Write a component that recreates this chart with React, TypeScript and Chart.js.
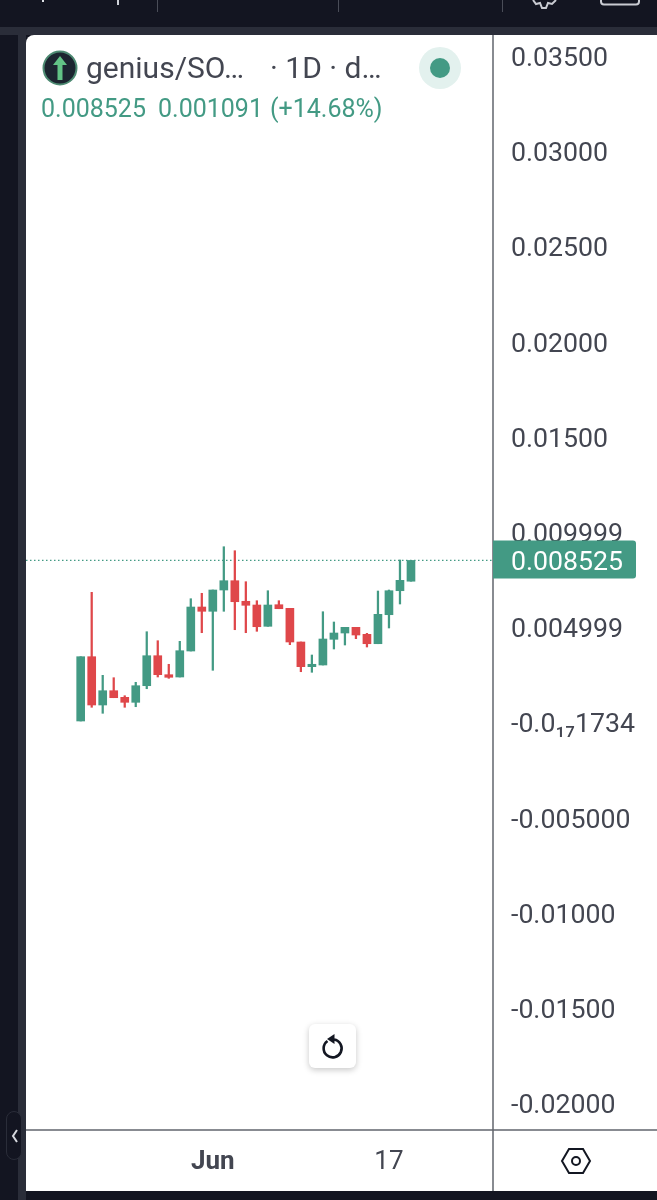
import React, { useEffect, useRef } from "react";
import { Chart, registerables } from "chart.js";

Chart.register(...registerables);

const categories = [
  "May 20","May 21","May 22","May 23","May 24","May 25","May 26","May 27","May 28","May 29","May 30","May 31",
  "Jun","Jun 2","Jun 3","Jun 4","Jun 5","Jun 6","Jun 7","Jun 8","Jun 9","Jun 10","Jun 11","Jun 12","Jun 13",
  "Jun 14","Jun 15","Jun 16","17","Jun 18","Jun 19",
];
const opens = [
  0.000095,0.003471,0.000935,0.001685,0.001339,0.001076,0.001948,0.003523,0.002526,0.002405,0.00377,
  0.00608,0.005855,0.006973,0.007461,0.00638,0.006185,0.005067,0.006201,0.006012,0.004243,0.002946,
  0.003035,0.004384,0.004715,0.005014,0.004647,0.004153,0.005676,0.006936,0.007434,
];
const closes = [
  0.003471,0.000935,0.001685,0.001318,0.001076,0.001948,0.003523,0.002526,0.002389,0.003786,0.00608,
  0.005855,0.006973,0.007461,0.006358,0.00617,0.005046,0.006185,0.005991,0.004243,0.002946,0.003072,
  0.0044,0.004715,0.005014,0.00461,0.004153,0.005697,0.006936,0.007482,0.008525,
];
const highs = [
  0.003471,0.006852,0.002494,0.002368,0.001423,0.002127,0.004783,0.004311,0.003072,0.004279,0.006516,
  0.0068,0.006973,0.009246,0.009036,0.007409,0.006411,0.006936,0.006411,0.006012,0.004243,0.00356,
  0.005833,0.005293,0.005014,0.005014,0.004699,0.00692,0.006973,0.008548,0.008525,
];
const lows = [
  0.000095,0.000814,0.000499,0.001318,0.000814,0.000845,0.00179,0.002405,0.002336,0.002405,0.00377,
  0.004731,0.002757,0.005855,0.004888,0.004731,0.004804,0.005067,0.005991,0.004101,0.002683,0.002652,
  0.003035,0.003875,0.004085,0.004416,0.00398,0.004153,0.004978,0.006238,0.007434,
];
const yTickValues = [0.035,0.03,0.025,0.02,0.015,0.009999,0.004999,-0.000000000000000001734,-0.005,-0.01,-0.015,-0.02];
const yTickLabels = ["0.03500","0.03000","0.02500","0.02000","0.01500","0.009999","0.004999","-0.0₁₇1734","-0.005000","-0.01000","-0.01500","-0.02000"];
const xTickIndexes = [12, 28];
const lastPrice = [0.008525];
const lastPriceLabel = "0.008525";

const GREEN = "#439a84";
const RED = "#df474a";
const TEXT = "#434651";
const LINE = "#62656d";
const DARK = "#131521";
const STRIP = "#2a2d39";

const X_MIN = -4.968;
const X_MAX = 37.45;

const chromePlugin = {
  id: "chrome",
  afterDraw(chart: any) {
    const { ctx, chartArea, width, height, scales } = chart;
    ctx.save();
    ctx.strokeStyle = LINE;
    ctx.lineWidth = 1.5;
    ctx.beginPath();
    ctx.moveTo(chartArea.right, 0);
    ctx.lineTo(chartArea.right, height);
    ctx.moveTo(0, chartArea.bottom);
    ctx.lineTo(width, chartArea.bottom);
    ctx.stroke();
    const py = scales.y.getPixelForValue(lastPrice[0]);
    ctx.fillStyle = GREEN;
    ctx.beginPath();
    ctx.roundRect(chartArea.right, py - 20, 143, 38, [0, 3, 3, 0]);
    ctx.fill();
    ctx.fillStyle = "#ffffff";
    ctx.font = "26.7px Roboto";
    ctx.textBaseline = "middle";
    ctx.textAlign = "left";
    ctx.fillText(lastPriceLabel, chartArea.right + 18, py + 2.5);
    ctx.restore();
  },
};

const abs = (left: number, top: number, width: number, height: number, extra: any = {}) => ({
  position: "absolute" as const, left, top, width, height, ...extra,
});
const label = (left: number, top: number, size: number, color: string, extra: any = {}) => ({
  position: "absolute" as const, left, top, fontFamily: "Roboto", fontSize: size, color, lineHeight: 1, whiteSpace: "pre" as const, ...extra,
});

export default function App() {
  const ref = useRef<HTMLCanvasElement | null>(null);
  useEffect(() => {
    if (!ref.current) return;
    const colors = opens.map((o, i) => (closes[i] >= o ? GREEN : RED));
    const chart = new Chart(ref.current, {
      type: "bar",
      data: {
        datasets: [
          {
            type: "line",
            label: "Last price",
            data: [{ x: X_MIN, y: lastPrice[0] }, { x: X_MAX, y: lastPrice[0] }],
            borderColor: GREEN,
            borderWidth: 1.3,
            borderDash: [1.5, 2.5],
            pointRadius: 0,
            order: 3,
          },
          {
            label: "Wick",
            data: categories.map((_, i) => ({ x: i, y: [lows[i], highs[i]] })),
            backgroundColor: colors,
            barThickness: 1.6,
            grouped: false,
            order: 2,
          },
          {
            label: "Body",
            data: categories.map((_, i) => ({ x: i, y: [opens[i], closes[i]] })),
            backgroundColor: colors,
            barThickness: 8,
            grouped: false,
            order: 1,
          },
        ] as any,
      },
      options: {
        responsive: false,
        animation: false,
        layout: { padding: 0, autoPadding: false },
        plugins: { legend: { display: false }, tooltip: { enabled: false } },
        scales: {
          x: {
            type: "linear",
            offset: false,
            min: X_MIN,
            max: X_MAX,
            grid: { display: false, drawTicks: false },
            border: { display: false },
            afterBuildTicks: (s: any) => { s.ticks = xTickIndexes.map((value) => ({ value })); },
            afterFit: (s: any) => { s.height = 61; s.paddingLeft = 0; s.paddingRight = 0; s.paddingTop = 0; s.paddingBottom = 0; },
            ticks: {
              autoSkip: false,
              maxRotation: 0,
              padding: 17,
              color: TEXT,
              font: (c: any) => ({ family: "Roboto", size: 26, weight: c.index === 0 ? "bold" : "normal" }),
              callback: (v: any) => categories[v],
            },
          },
          y: {
            type: "linear",
            position: "right",
            min: -0.021381,
            max: 0.036115,
            grid: { display: false, drawTicks: false },
            border: { display: false },
            afterBuildTicks: (s: any) => { s.ticks = yTickValues.map((value) => ({ value })); },
            afterFit: (s: any) => { s.width = 164; s.paddingLeft = 0; s.paddingRight = 0; s.paddingTop = 0; s.paddingBottom = 0; },
            ticks: {
              autoSkip: false,
              crossAlign: "near",
              padding: 18,
              color: TEXT,
              font: { family: "Roboto", size: 26.7, lineHeight: "6px" },
              callback: (_: any, i: number) => ["", yTickLabels[i]],
            },
          },
        },
      } as any,
      plugins: [chromePlugin],
    });
    return () => chart.destroy();
  }, []);

  return (
    <div style={abs(0, 0, 657, 1200, { background: DARK, overflow: "hidden" })}>
      {/* top toolbar remnants */}
      <div style={abs(0, 27, 657, 8, { background: STRIP })} />
      <div style={abs(18, 35, 8, 1165, { background: STRIP })} />
      <div style={abs(0, 35, 18, 1165, { background: DARK, borderTopRightRadius: 6 })} />
      <div style={abs(42, 0, 2, 2, { background: "#dfe1e6" })} />
      <div style={abs(117, 0, 2, 5, { background: "#cfd1d8" })} />
      <div style={abs(157, 0, 1, 12, { background: "#4a4d58" })} />
      <div style={abs(338, 0, 1, 12, { background: "#4a4d58" })} />
      <div style={abs(502, 0, 1, 12, { background: "#4a4d58" })} />
      <svg style={abs(530, 0, 127, 14)} viewBox="0 0 127 14">
        <path d="M3 0 L6 4 L10 3 L12 8 L16 8 L18 3 L22 4 L26 0" fill="none" stroke="#c9cbd2" strokeWidth="2" />
        <rect x="71" y="-8" width="38" height="12.5" rx="3" fill="none" stroke="#c9cbd2" strokeWidth="2" />
      </svg>
      {/* collapse handle */}
      <div style={abs(6, 1111, 16, 49, { background: DARK, border: `1.5px solid ${STRIP}`, borderRadius: 8, boxSizing: "border-box" })} />
      <svg style={abs(9, 1128, 12, 16)} viewBox="0 0 12 16">
        <path d="M8 2 L4 8 L8 14" fill="none" stroke="#d6d8de" strokeWidth="2" />
      </svg>
      {/* pane */}
      <div style={abs(26, 35, 631, 1156, { background: "#ffffff", borderTopLeftRadius: 8 })} />
      <canvas ref={ref} width={631} height={1156} style={abs(26, 35, 631, 1156)} />
      {/* header */}
      <svg style={abs(42, 50, 36, 36)} viewBox="0 0 36 36">
        <circle cx="18" cy="18" r="16.5" fill="#1c2530" stroke="#4d8a72" strokeWidth="2" />
        <path d="M18 6 L25 15 L20.5 15 L20.5 30 L15.5 30 L15.5 15 L11 15 Z" fill="#62c486" />
      </svg>
      <div style={label(86, 53, 30, TEXT)}>genius/SO…</div>
      <div style={label(270, 53, 30, TEXT)}>· 1D · d…</div>
      <div style={label(41, 96, 25, GREEN)}>0.008525</div>
      <div style={label(158, 96, 25, GREEN)}>0.001091</div>
      <div style={label(270, 96, 25, GREEN)}>(+14.68%)</div>
      <div style={abs(419, 47, 42, 42, { background: "#e3f1ee", borderRadius: "50%" })} />
      <div style={abs(430, 58, 20, 20, { background: GREEN, borderRadius: "50%" })} />
      {/* reset button */}
      <div style={abs(309, 1024, 47, 44, { background: "#ffffff", borderRadius: 6, boxShadow: "0 2px 6px rgba(0,0,0,0.22)" })} />
      <svg style={abs(319, 1032, 28, 28)} viewBox="0 0 28 28">
        <path d="M8.5 9 A9 9 0 1 0 15 7.5" fill="none" stroke="#131722" strokeWidth="2.6" />
        <path d="M15.5 2 L15.5 12 L8 7 Z" fill="#131722" />
      </svg>
      {/* settings */}
      <svg style={abs(560, 1146, 32, 30)} viewBox="0 0 32 30">
        <path d="M9 3 L23 3 L30 15 L23 27 L9 27 L2 15 Z" fill="none" stroke="#131722" strokeWidth="2" />
        <circle cx="16" cy="15" r="4" fill="none" stroke="#131722" strokeWidth="2" />
      </svg>
    </div>
  );
}
